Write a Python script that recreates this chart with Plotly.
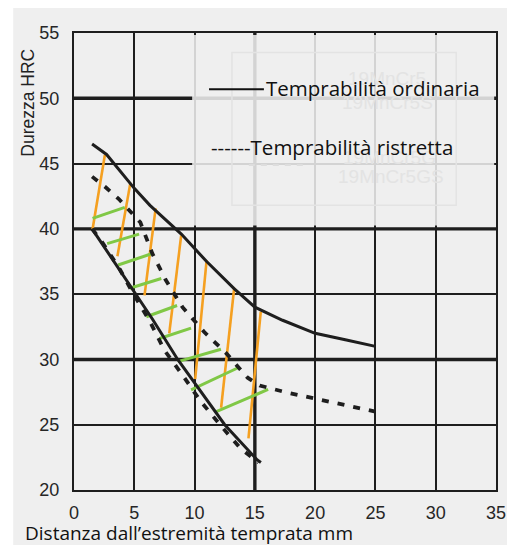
import plotly.graph_objects as go

# ---- data ----
upper_ord_x = [1.5, 2.7, 5.0, 6.3, 8.9, 11.0, 13.3, 15.0, 17.3, 20.0, 22.5, 25.0]
upper_ord_y = [46.5, 45.7, 43.1, 41.8, 39.6, 37.5, 35.4, 34.0, 33.0, 32.0, 31.5, 31.0]

lower_ord_x = [1.5, 3.0, 5.0, 6.5, 8.6, 10.4, 12.5, 15.2, 15.5]
lower_ord_y = [40.0, 37.9, 35.2, 33.1, 30.0, 27.7, 25.0, 22.3, 22.1]

upper_rist_x = [1.5, 2.6, 3.7, 4.6, 5.5, 6.5, 7.6, 9.0, 10.8, 12.6, 14.4, 15.4, 17.5, 20.0, 22.5, 25.0]
upper_rist_y = [44.0, 43.2, 42.3, 41.4, 40.5, 38.1, 36.1, 34.0, 32.1, 30.5, 28.6, 28.0, 27.5, 27.0, 26.5, 26.0]

lower_rist_x = [1.5, 2.4, 3.8, 5.0, 6.3, 7.5, 9.0, 10.5, 12.2, 13.8, 15.3]
lower_rist_y = [40.0, 38.9, 36.9, 34.9, 32.9, 30.7, 28.8, 26.8, 24.9, 23.2, 22.1]

orange_x0 = [2.56, 4.68, 6.77, 8.89, 11.0, 13.29, 15.49]
orange_y0 = [45.65, 43.54, 41.57, 39.5, 37.6, 35.5, 33.66]
orange_x1 = [1.54, 3.6, 5.85, 7.9, 10.05, 12.2, 14.47]
orange_y1 = [39.97, 37.9, 34.9, 32.0, 28.5, 26.3, 23.96]

green_x0 = [1.54, 2.75, 3.66, 4.62, 6.0, 7.1, 8.61, 9.71, 11.8]
green_y0 = [40.8, 38.87, 37.23, 35.45, 33.27, 31.6, 29.83, 27.66, 26.0]
green_x1 = [4.21, 5.4, 6.55, 7.24, 8.55, 9.71, 12.19, 13.7, 16.1]
green_y1 = [41.65, 39.6, 38.13, 36.2, 34.13, 32.4, 30.78, 29.4, 27.7]

x_ticks = [0, 5, 10, 15, 20, 25, 30, 35]
y_ticks = [20, 25, 30, 35, 40, 45, 50, 55]
thick_x = [15]
thick_y = [30, 40, 50]

legend_ord = "Temprabilità ordinaria"
legend_rist = "------Temprabilità ristretta"
ghost_labels = ["19MnCr5", "19MnCr5S", "19MnCr5G", "19MnCr5GS"]
ghost_label_x = [26.0, 26.0, 26.2, 26.3]
ghost_label_y = [51.55, 49.65, 45.45, 44.0]
x_title = "Distanza dall\u2019estremità temprata mm"
y_title = "Durezza HRC"


def segs(x0, y0, x1, y1):
    xs, ys = [], []
    for a, b, c, d in zip(x0, y0, x1, y1):
        xs += [a, c, None]
        ys += [b, d, None]
    return xs, ys


BG = "#efefef"
INK = "#1e1e1e"

fig = go.Figure()

ox, oy = segs(orange_x0, orange_y0, orange_x1, orange_y1)
gx, gy = segs(green_x0, green_y0, green_x1, green_y1)

fig.add_trace(go.Scatter(x=ox, y=oy, mode="lines",
                         line=dict(color="#f5a020", width=2.6), hoverinfo="skip"))
fig.add_trace(go.Scatter(x=gx, y=gy, mode="lines",
                         line=dict(color="#80c846", width=3), hoverinfo="skip"))
fig.add_trace(go.Scatter(x=upper_rist_x, y=upper_rist_y, mode="lines",
                         line=dict(color=INK, width=3.8, dash="7px,9px")))
fig.add_trace(go.Scatter(x=lower_rist_x, y=lower_rist_y, mode="lines",
                         line=dict(color=INK, width=3.8, dash="7px,9px")))
fig.add_trace(go.Scatter(x=upper_ord_x, y=upper_ord_y, mode="lines",
                         line=dict(color=INK, width=3)))
fig.add_trace(go.Scatter(x=lower_ord_x, y=lower_ord_y, mode="lines",
                         line=dict(color=INK, width=3)))

shapes = []
# outer grey panel (screenshot frame)
shapes.append(dict(type="rect", xref="paper", yref="paper", x0=-0.144, x1=1.033,
                   y0=-0.13, y1=1.057, fillcolor=BG, line=dict(width=0), layer="below"))
for v in thick_x:
    shapes.append(dict(type="line", xref="x", yref="y", x0=v, x1=v, y0=20, y1=55,
                       line=dict(color=INK, width=3.4), layer="below"))
for v in thick_y:
    shapes.append(dict(type="line", xref="x", yref="y", x0=0, x1=35, y0=v, y1=v,
                       line=dict(color=INK, width=3.4), layer="below"))
# faded region where the old legend was
shapes.append(dict(type="rect", xref="x", yref="y", x0=9.8, x1=34.85, y0=40.25, y1=54.85,
                   fillcolor=BG, opacity=0.87, line=dict(width=0), layer="above"))
# ghost legend box
shapes.append(dict(type="rect", xref="x", yref="y", x0=13.1, x1=31.7, y0=41.8, y1=53.5,
                   fillcolor="rgba(0,0,0,0)", line=dict(color="#e3e3e3", width=1.5), layer="above"))
shapes.append(dict(type="line", xref="x", yref="y", x0=14.5, x1=19.1, y0=44.9, y1=44.9,
                   line=dict(color="#dddddd", width=2, dash="6px,6px"), layer="above"))
# legend sample line
shapes.append(dict(type="line", xref="x", yref="y", x0=11.2, x1=15.75, y0=50.7, y1=50.7,
                   line=dict(color="#111111", width=2), layer="above"))

annotations = []
for t, xx, yy in zip(ghost_labels, ghost_label_x, ghost_label_y):
    annotations.append(dict(x=xx, y=yy, xref="x", yref="y", text=t, showarrow=False,
                            xanchor="center", yanchor="middle",
                            font=dict(family="Liberation Sans", size=19, color="#e3e3e3")))
annotations.append(dict(x=15.75, y=50.75, xref="x", yref="y", text=legend_ord, showarrow=False,
                        xanchor="left", yanchor="middle",
                        font=dict(family="Open Sans", size=20.5, color="#111111")))
annotations.append(dict(x=11.2, y=46.3, xref="x", yref="y", text=legend_rist, showarrow=False,
                        xanchor="left", yanchor="middle",
                        font=dict(family="Open Sans", size=20.5, color="#111111")))
annotations.append(dict(x=-0.12, y=-0.094, xref="paper", yref="paper", text=x_title,
                        showarrow=False, xanchor="left", yanchor="middle",
                        font=dict(family="Open Sans", size=19, color="#111111")))
annotations.append(dict(x=-0.1085, y=0.848, xref="paper", yref="paper", text=y_title,
                        showarrow=False, xanchor="center", yanchor="middle", textangle=-90,
                        font=dict(family="Liberation Sans", size=17.5, color="#222222")))

# page body has an 8px margin: shrink the figure so the plot area lands where the reference has it
fig.update_layout(
    width=507, height=537, autosize=False,
    margin=dict(l=66, r=9, t=25, b=55),
    paper_bgcolor="white", plot_bgcolor=BG,
    showlegend=False,
    shapes=shapes, annotations=annotations,
)
fig.update_xaxes(range=[0, 35], tickvals=x_ticks, showgrid=True, gridcolor=INK, gridwidth=1.8,
                 zeroline=False, showline=True, linecolor=INK, linewidth=2, mirror=True,
                 ticks="", ticklabelstandoff=5,
                 tickfont=dict(family="Liberation Sans", size=18, color="#262626"))
fig.update_yaxes(range=[20, 55], tickvals=y_ticks, showgrid=True, gridcolor=INK, gridwidth=1.8,
                 zeroline=False, showline=True, linecolor=INK, linewidth=2, mirror=True,
                 ticks="", ticklabelstandoff=9,
                 tickfont=dict(family="Liberation Sans", size=18, color="#262626"))

fig.write_html("out.html")
